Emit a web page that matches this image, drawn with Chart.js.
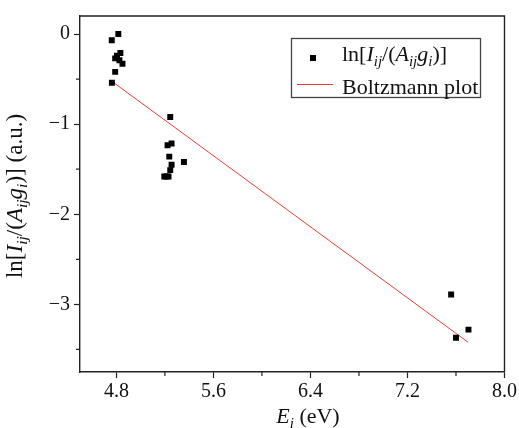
<!DOCTYPE html>
<html>
<head>
<meta charset="utf-8">
<script src="https://cdn.jsdelivr.net/npm/chart.js@4/dist/chart.umd.min.js"></script>
<style>
html,body{margin:0;padding:0;background:#fff;}
#c{display:block;}
</style>
</head>
<body>
<canvas id="c" width="519" height="428"></canvas>
<script>
// ---- data ----
const energyEV = [4.816, 4.762, 4.833, 4.805, 4.790, 4.825, 4.850, 4.790, 4.763,
                  5.244, 5.255, 5.222, 5.236, 5.357, 5.255, 5.244, 5.230, 5.195, 5.212,
                  7.560, 7.703, 7.600];
const lnValues = [0.00, -0.07, -0.21, -0.24, -0.27, -0.29, -0.33, -0.42, -0.54,
                  -0.92, -1.215, -1.235, -1.36, -1.42, -1.45, -1.51, -1.58, -1.58, -1.58,
                  -2.89, -3.28, -3.37];
const fitEnergy = [4.77, 7.70];
const fitLn = [-0.532, -3.42];
const xTickValues = [4.8, 5.2, 5.6, 6.0, 6.4, 6.8, 7.2, 7.6, 8.0];
const xTickLabels = ['4.8', '', '5.6', '', '6.4', '', '7.2', '', '8.0'];
const yTickValues = [-3.5, -3, -2.5, -2, -1.5, -1, -0.5, 0];
const yTickLabels = ['', '\u22123', '', '\u22122', '', '\u22121', '', '0'];

const FONT = '"Liberation Serif", "Times New Roman", serif';

// rich text segments: t = text, it = italic, sub = subscript
const seriesLabel = [
  {t:'ln['},{t:'I',it:1},{t:'ij',it:1,sub:1},{t:'/('},{t:'A',it:1},{t:'ij',it:1,sub:1},
  {t:'g',it:1},{t:'i',it:1,sub:1},{t:')]'}
];
const yTitle = seriesLabel.concat([{t:' (a.u.)'}]);
const xTitle = [{t:'E',it:1},{t:'i',it:1,sub:1},{t:' (eV)'}];
const fitLabel = [{t:'Boltzmann plot'}];

function segFont(s, size){
  const sz = s.sub ? size*0.68 : size;
  return (s.it ? 'italic ' : '') + sz + 'px ' + FONT;
}
function richWidth(ctx, segs, size){
  let w = 0;
  for (const s of segs){ ctx.font = segFont(s,size); w += ctx.measureText(s.t).width; }
  return w;
}
function drawRich(ctx, segs, x, y, size, align){
  let cx = x;
  if (align === 'center') cx = x - richWidth(ctx, segs, size)/2;
  ctx.textBaseline = 'alphabetic';
  ctx.textAlign = 'left';
  for (const s of segs){
    ctx.font = segFont(s,size);
    ctx.fillText(s.t, cx, y + (s.sub ? size*0.22 : 0));
    cx += ctx.measureText(s.t).width;
  }
}

const decor = {
  id: 'decor',
  afterDraw(chart){
    const ctx = chart.ctx;
    const a = chart.chartArea;
    const xs = chart.scales.x, ys = chart.scales.y;
    ctx.save();
    // frame top & right
    ctx.strokeStyle = '#222';
    ctx.lineWidth = 1.4;
    ctx.beginPath();
    ctx.moveTo(a.left, a.top); ctx.lineTo(a.right, a.top); ctx.lineTo(a.right, a.bottom);
    ctx.stroke();
    // minor ticks
    ctx.lineWidth = 1.2;
    ctx.beginPath();
    xTickValues.forEach((v,i)=>{ if(!xTickLabels[i]){ const p = xs.getPixelForValue(v); ctx.moveTo(p, a.bottom); ctx.lineTo(p, a.bottom+4);} });
    yTickValues.forEach((v,i)=>{ if(!yTickLabels[i]){ const p = ys.getPixelForValue(v); ctx.moveTo(a.left, p); ctx.lineTo(a.left-4, p);} });
    ctx.stroke();
    // titles
    ctx.fillStyle = '#111';
    drawRich(ctx, xTitle, 308, 423, 22, 'center');
    ctx.save();
    ctx.translate(22, 196);
    ctx.rotate(-Math.PI/2);
    drawRich(ctx, yTitle, 0, 0, 23, 'center');
    ctx.restore();
    // legend
    ctx.strokeStyle = '#444';
    ctx.lineWidth = 1.3;
    ctx.strokeRect(291.5, 38.5, 189, 59);
    ctx.fillStyle = '#000';
    ctx.fillRect(310, 55, 6, 6);
    ctx.fillStyle = '#111';
    drawRich(ctx, seriesLabel, 342, 61, 22, 'left');
    ctx.strokeStyle = 'rgb(235,60,50)';
    ctx.lineWidth = 1;
    ctx.beginPath(); ctx.moveTo(297, 84.5); ctx.lineTo(333, 84.5); ctx.stroke();
    drawRich(ctx, fitLabel, 342, 94, 22, 'left');
    ctx.restore();
  }
};

new Chart(document.getElementById('c'), {
  type: 'scatter',
  data: {
    datasets: [
      {
        label: 'points',
        data: energyEV.map((e,i)=>({x:e, y:lnValues[i]})),
        pointStyle: 'rect',
        pointRadius: 4.2,
        backgroundColor: '#000',
        borderColor: '#000',
        borderWidth: 0,
        showLine: false
      },
      {
        label: 'fit',
        data: fitEnergy.map((e,i)=>({x:e, y:fitLn[i]})),
        showLine: true,
        pointRadius: 0,
        borderColor: 'rgb(235,60,50)',
        borderWidth: 1,
        fill: false
      }
    ]
  },
  options: {
    responsive: false,
    devicePixelRatio: 1,
    animation: false,
    events: [],
    layout: { padding: { top: 15, right: 14, left: 0, bottom: 0 } },
    plugins: { legend: { display: false }, tooltip: { enabled: false } },
    scales: {
      x: {
        type: 'linear', min: 4.5, max: 8.0,
        afterBuildTicks: s => { s.ticks = xTickValues.map(v=>({value:v})); },
        afterFit: s => { s.height = 56; },
        ticks: {
          autoSkip: false, maxRotation: 0, padding: 2,
          color: '#111',
          font: { family: FONT, size: 20 },
          callback: (v, i) => xTickLabels[i]
        },
        grid: {
          drawOnChartArea: false, drawTicks: true, tickLength: 6,
          tickColor: c => (xTickLabels[c.index] ? '#222' : 'rgba(0,0,0,0)'),
          tickWidth: 1.2
        },
        border: { display: true, color: '#222', width: 1.4 }
      },
      y: {
        type: 'linear', min: -3.75, max: 0.2,
        afterBuildTicks: s => { s.ticks = yTickValues.map(v=>({value:v})); },
        afterFit: s => { s.width = 80; },
        ticks: {
          autoSkip: false, padding: 4,
          color: '#111',
          font: { family: FONT, size: 20 },
          callback: (v, i) => yTickLabels[i]
        },
        grid: {
          drawOnChartArea: false, drawTicks: true, tickLength: 6,
          tickColor: c => (yTickLabels[c.index] ? '#222' : 'rgba(0,0,0,0)'),
          tickWidth: 1.2
        },
        border: { display: true, color: '#222', width: 1.4 }
      }
    }
  },
  plugins: [decor]
});
</script>
</body>
</html>
